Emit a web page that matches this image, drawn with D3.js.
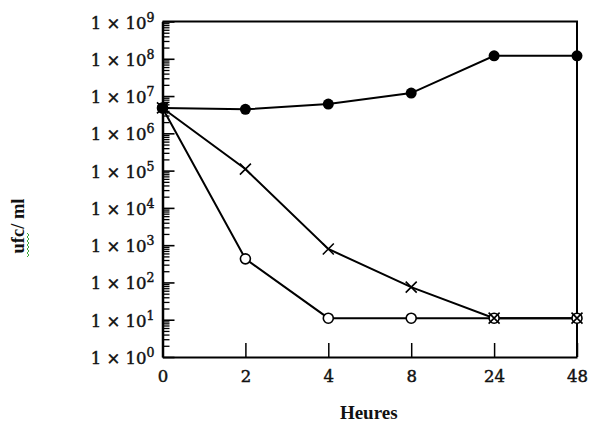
<!DOCTYPE html>
<html>
<head>
<meta charset="utf-8">
<script src="https://cdn.jsdelivr.net/npm/d3@7"></script>
<style>
  html, body { margin: 0; padding: 0; background: #fff; }
  svg { display: block; }
</style>
</head>
<body>
<svg id="chart" width="589" height="423"></svg>
<script>
// ---- data ----
const hours = ["0", "2", "4", "8", "24", "48"];
const filledSeries = [4.8e6, 4.4e6, 6.1e6, 1.2e7, 1.2e8, 1.2e8];   // ●
const crossSeries  = [4.8e6, 1.1e5, 7.9e2, 7.5e1, 1.1e1, 1.1e1];   // ×
const openSeries   = [4.8e6, 4.3e2, 1.1e1, 1.1e1, 1.1e1, 1.1e1];   // ○
const yExponents = [0, 1, 2, 3, 4, 5, 6, 7, 8, 9];
const xTitle = "Heures";
const yTitle = "ufc/ ml";

// ---- layout ----
const svg = d3.select("#chart");
const mLeft = 162.5, mRight = 577, mTop = 21.5, mBottom = 357;

const x = d3.scalePoint().domain(hours).range([mLeft, mRight]);
const y = d3.scaleLog().domain([1, 1e9]).range([mBottom, mTop]);

const serif = "'DejaVu Serif', serif";

// minor y ticks (inside)
const minorVals = [];
yExponents.slice(0, -1).forEach(e => { for (let m = 2; m <= 9; m++) minorVals.push(m * Math.pow(10, e)); });
const minorAxis = svg.append("g")
  .attr("transform", `translate(${mLeft},0)`)
  .call(d3.axisLeft(y).tickValues(minorVals).tickSizeInner(-7).tickSizeOuter(0).tickFormat(""));
minorAxis.select(".domain").remove();
minorAxis.selectAll("line").attr("stroke", "#000").attr("stroke-width", 1.3);

// major y axis
const yAxis = svg.append("g")
  .attr("transform", `translate(${mLeft},0)`)
  .call(d3.axisLeft(y)
    .tickValues(yExponents.map(e => Math.pow(10, e)))
    .tickSizeInner(-12).tickSizeOuter(0).tickPadding(8));
yAxis.select(".domain").attr("stroke", "#000").attr("stroke-width", 2.5);
yAxis.selectAll(".tick line").attr("stroke", "#000").attr("stroke-width", 1.6);
yAxis.selectAll(".tick text").each(function (d) {
  const t = d3.select(this);
  const e = Math.round(Math.log10(d));
  t.text(null)
    .attr("font-family", serif).attr("font-size", 16.5).attr("fill", "#111")
    .attr("stroke", "#111").attr("stroke-width", 0.45)
    .attr("dy", null).attr("y", 6.5);
  t.append("tspan").text("1 \u00d7 10");
  t.append("tspan").attr("font-size", 12.5).attr("dy", -7).text(e);
});

// x axis
const xAxis = svg.append("g")
  .attr("transform", `translate(0,${mBottom})`)
  .call(d3.axisBottom(x).tickSizeInner(-14).tickSizeOuter(0).tickPadding(13));
xAxis.select(".domain").attr("stroke", "#000").attr("stroke-width", 2);
xAxis.selectAll(".tick line").attr("stroke", "#000").attr("stroke-width", 1.5);
xAxis.selectAll(".tick text")
  .attr("font-family", serif).attr("font-size", 16.5).attr("fill", "#111")
  .attr("stroke", "#111").attr("stroke-width", 0.45);

// frame (top & right)
svg.append("path")
  .attr("d", d3.line()([[mLeft, y(1e9)], [mRight, y(1e9)], [mRight, y(1)]]))
  .attr("fill", "none").attr("stroke", "#000").attr("stroke-width", 2);

// lines
const line = d3.line().x((d, i) => x(hours[i])).y(d => y(d));
[openSeries, crossSeries, filledSeries].forEach(s => {
  svg.append("path").datum(s).attr("d", line)
    .attr("fill", "none").attr("stroke", "#000").attr("stroke-width", 2);
});

// open circles
svg.append("g").selectAll("circle").data(openSeries).join("circle")
  .attr("cx", (d, i) => x(hours[i])).attr("cy", d => y(d)).attr("r", 5)
  .attr("fill", "#fff").attr("stroke", "#000").attr("stroke-width", 1.6);

// crosses
const cs = 5.5;
svg.append("g").selectAll("path").data(crossSeries).join("path")
  .attr("transform", (d, i) => `translate(${x(hours[i])},${y(d)})`)
  .attr("d", `M${-cs},${-cs}L${cs},${cs}M${-cs},${cs}L${cs},${-cs}`)
  .attr("stroke", "#000").attr("stroke-width", 1.6).attr("fill", "none");

// filled circles
svg.append("g").selectAll("circle").data(filledSeries).join("circle")
  .attr("cx", (d, i) => x(hours[i])).attr("cy", d => y(d)).attr("r", 5.5)
  .attr("fill", "#000");

// titles
svg.append("text")
  .attr("x", (mLeft + mRight) / 2 - 1).attr("y", 419)
  .attr("text-anchor", "middle")
  .attr("font-family", "'Liberation Serif', serif").attr("font-weight", "bold")
  .attr("font-size", 19).attr("fill", "#111")
  .text(xTitle);

svg.append("text")
  .attr("transform", "translate(24,226) rotate(-90)")
  .attr("text-anchor", "middle")
  .attr("font-family", "'Liberation Serif', serif").attr("font-weight", "bold")
  .attr("font-size", 18.5).attr("fill", "#111")
  .text(yTitle);

// green spell-check squiggle under "ufc"
const sq = [];
for (let k = 0; k <= 12; k++) sq.push([k * 2, (k % 2) * 2]);
svg.append("path")
  .attr("transform", "translate(27,257) rotate(-90)")
  .attr("d", d3.line()(sq))
  .attr("fill", "none").attr("stroke", "#3aa83a").attr("stroke-width", 1);
</script>
</body>
</html>
